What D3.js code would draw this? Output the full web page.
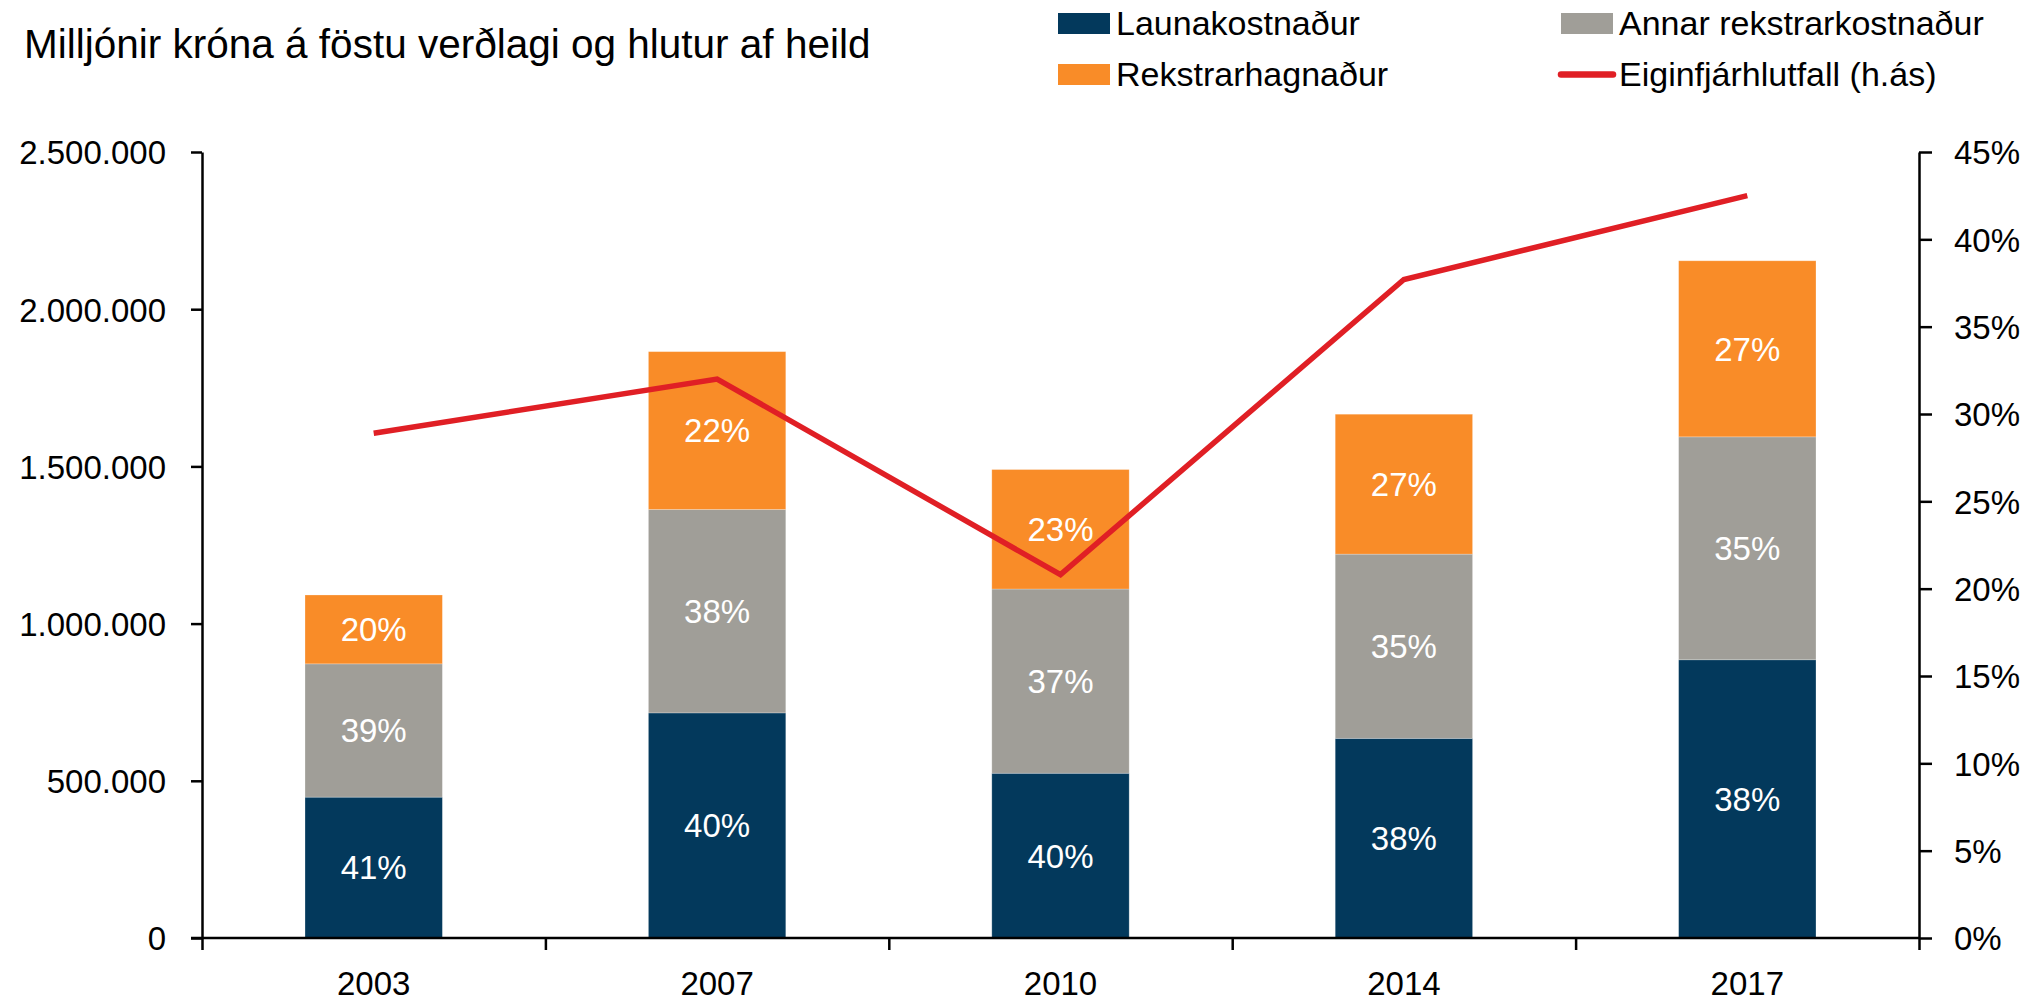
<!DOCTYPE html>
<html>
<head>
<meta charset="utf-8">
<script src="https://cdn.jsdelivr.net/npm/d3@7"></script>
<style>
  body { margin: 0; background: #fff; }
  text { font-family: "Liberation Sans", Arial, sans-serif; }
</style>
</head>
<body>
<svg id="canvas"></svg>
<script>
let years = ["2003", "2007", "2010", "2014", "2017"];
let launakostnadur = [448000, 716000, 524000, 635000, 885000];
let annarKostnadur = [424000, 647000, 586000, 586000, 709000];
let rekstrarhagnadur = [219000, 502000, 380000, 445000, 560000];
let eiginfjarhlutfall = [28.9, 32.0, 20.8, 37.7, 42.5];

let labelsLaun = ["41%", "40%", "40%", "38%", "38%"];
let labelsAnnar = ["39%", "38%", "37%", "35%", "35%"];
let labelsHagn = ["20%", "22%", "23%", "27%", "27%"];

let leftTicks = [0, 500000, 1000000, 1500000, 2000000, 2500000];
let rightTicks = [0, 5, 10, 15, 20, 25, 30, 35, 40, 45];

let seriesNames = ["Launakostnaður", "Annar rekstrarkostnaður", "Rekstrarhagnaður"];
let colors = ["#03395c", "#a09e98", "#f98c28"];
let lineName = "Eiginfjárhlutfall (h.ás)";
let lineColor = "#e01f25";

let width = 2039;
let height = 1002;
let plotLeft = 202;
let plotRight = 1919;
let plotTop = 152;
let plotBottom = 938;

let canvas = d3.select("#canvas");
canvas.attr("width", width);
canvas.attr("height", height);

let locale = d3.formatLocale({ decimal: ",", thousands: ".", grouping: [3], currency: ["", ""] });

let xScale = d3.scaleBand().domain(years).range([plotLeft, plotRight]);
let xEdges = d3.scaleLinear().domain([0, years.length]).range([plotLeft, plotRight]);
let yScale = d3.scaleLinear().domain([0, 2500000]).range([plotBottom, plotTop]);
let y2Scale = d3.scaleLinear().domain([0, 45]).range([plotBottom, plotTop]);

let barWidth = xScale.bandwidth() * 0.4;

// stacked segments
let rows = years.map((year, i) => ({
  year: year,
  s0: launakostnadur[i],
  s1: annarKostnadur[i],
  s2: rekstrarhagnadur[i],
  labels: [labelsLaun[i], labelsAnnar[i], labelsHagn[i]]
}));
let stacked = d3.stack().keys(["s0", "s1", "s2"])(rows);

let drawBars = () => {
  let groups = canvas.append("g").selectAll("g")
    .data(stacked)
    .enter()
    .append("g")
    .attr("fill", (d, i) => colors[i]);

  groups.selectAll("rect")
    .data((d) => d)
    .enter()
    .append("rect")
    .attr("x", (d) => xScale(d.data.year) + (xScale.bandwidth() - barWidth) / 2)
    .attr("width", barWidth)
    .attr("y", (d) => yScale(d[1]))
    .attr("height", (d) => yScale(d[0]) - yScale(d[1]))
    .attr("stroke", "#fff")
    .attr("stroke-opacity", 0.3)
    .attr("stroke-width", 0.8);

  stacked.forEach((layer, li) => {
    canvas.append("g").selectAll("text")
      .data(layer)
      .enter()
      .append("text")
      .attr("x", (d) => xScale(d.data.year) + xScale.bandwidth() / 2)
      .attr("y", (d) => (yScale(d[0]) + yScale(d[1])) / 2)
      .attr("dy", "0.36em")
      .attr("text-anchor", "middle")
      .attr("fill", "#fff")
      .style("font-size", "33px")
      .text((d) => d.data.labels[li]);
  });
};

let drawLine = () => {
  let line = d3.line()
    .x((d, i) => xScale(years[i]) + xScale.bandwidth() / 2)
    .y((d) => y2Scale(d));
  canvas.append("path")
    .datum(eiginfjarhlutfall)
    .attr("d", line)
    .attr("fill", "none")
    .attr("stroke", lineColor)
    .attr("stroke-width", 5.5)
    .attr("stroke-linejoin", "miter");
};

let styleAxis = (g) => {
  g.selectAll("path, line").attr("stroke", "#000").attr("stroke-width", 2.5);
  g.selectAll("text").attr("fill", "#000").style("font-size", "33px").attr("font-family", null);
};

let drawAxes = () => {
  let yAxis = d3.axisLeft(yScale)
    .tickValues(leftTicks)
    .tickSize(11)
    .tickSizeOuter(0)
    .tickPadding(25)
    .tickFormat(locale.format(",d"));
  canvas.append("g")
    .attr("transform", "translate(" + plotLeft + ", 0)")
    .call(yAxis)
    .call(styleAxis)
    .call((g) => g.selectAll("text").attr("dy", "0.36em"));

  let y2Axis = d3.axisRight(y2Scale)
    .tickValues(rightTicks)
    .tickSize(13)
    .tickSizeOuter(0)
    .tickPadding(22)
    .tickFormat((d) => d + "%");
  canvas.append("g")
    .attr("transform", "translate(" + plotRight + ", 0)")
    .call(y2Axis)
    .call(styleAxis)
    .call((g) => g.selectAll("text").attr("dy", "0.36em"));

  let xAxis = d3.axisBottom(xScale).tickSize(0).tickPadding(33.5);
  canvas.append("g")
    .attr("transform", "translate(0, " + plotBottom + ")")
    .call(xAxis)
    .call(styleAxis)
    .call((g) => g.select(".domain").attr("d", "M" + (plotLeft - 11) + ",0H" + plotRight));

  let edgeAxis = d3.axisBottom(xEdges)
    .tickValues(d3.range(years.length + 1))
    .tickSize(12)
    .tickSizeOuter(0)
    .tickFormat("");
  canvas.append("g")
    .attr("transform", "translate(0, " + plotBottom + ")")
    .call(edgeAxis)
    .call(styleAxis)
    .call((g) => g.select(".domain").remove());
};

let drawTexts = () => {
  canvas.append("text")
    .attr("x", 24)
    .attr("y", 58)
    .attr("fill", "#000")
    .style("font-size", "40.5px")
    .text("Milljónir króna á föstu verðlagi og hlutur af heild");

  let legend = [
    { name: seriesNames[0], color: colors[0], x: 1058, y: 13, type: "rect" },
    { name: seriesNames[1], color: colors[1], x: 1561, y: 13, type: "rect" },
    { name: seriesNames[2], color: colors[2], x: 1058, y: 64, type: "rect" },
    { name: lineName, color: lineColor, x: 1561, y: 64, type: "line" }
  ];
  let items = canvas.append("g").selectAll("g")
    .data(legend)
    .enter()
    .append("g")
    .attr("transform", (d) => "translate(" + d.x + "," + d.y + ")");

  items.filter((d) => d.type === "rect")
    .append("rect")
    .attr("width", 52)
    .attr("height", 21)
    .attr("fill", (d) => d.color);

  items.filter((d) => d.type === "line")
    .append("line")
    .attr("x1", 0)
    .attr("x2", 52)
    .attr("y1", 10.5)
    .attr("y2", 10.5)
    .attr("stroke", (d) => d.color)
    .attr("stroke-width", 6.5)
    .attr("stroke-linecap", "round");

  items.append("text")
    .attr("x", 58)
    .attr("y", 22)
    .attr("fill", "#000")
    .style("font-size", "34px")
    .text((d) => d.name);
};

drawBars();
drawLine();
drawAxes();
drawTexts();
</script>
</body>
</html>
